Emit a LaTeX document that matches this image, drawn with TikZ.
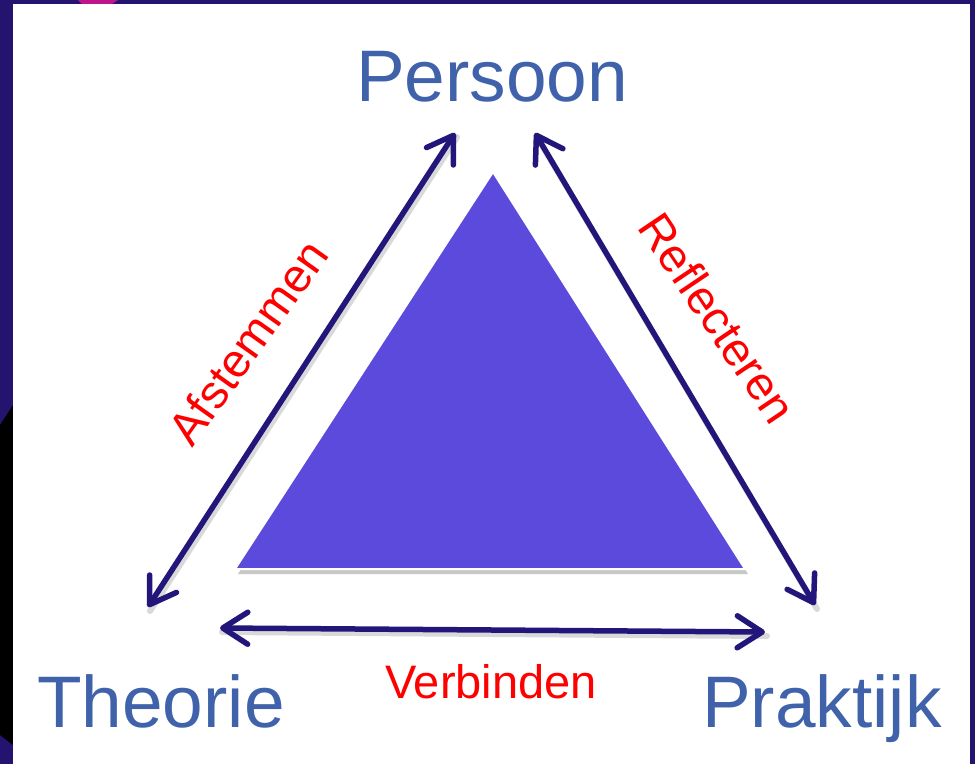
\documentclass[tikz,border=0pt]{standalone}
\usepackage{fontspec}
\setmainfont{Liberation Sans}
\usetikzlibrary{arrows.meta}
\definecolor{framepurple}{RGB}{36,20,112}
\definecolor{magentaspot}{RGB}{190,20,140}
\definecolor{trifill}{RGB}{91,74,220}
\definecolor{arrowcol}{RGB}{35,22,122}
\definecolor{labelblue}{RGB}{63,98,170}
\definecolor{labelred}{RGB}{255,0,0}
\tikzset{
  corner/.style={text=labelblue, font=\fontsize{73}{80}\selectfont, inner sep=0pt},
  verb/.style={text=labelred, font=\fontsize{47}{50}\selectfont, inner sep=0pt},
  link/.style={draw=arrowcol, line width=5.5pt, line cap=round,
    {Straight Barb[length=25pt, width=32pt, line cap=round, round]}-{Straight Barb[length=25pt, width=32pt, line cap=round, round]}},
  linkshadow/.style={draw=black!15, line width=6pt, line cap=round},
}
\begin{document}
\begin{tikzpicture}[x=1pt, y=-1pt]
\useasboundingbox (0,0) rectangle (975,764);
% frame background
\fill[framepurple] (0,0) rectangle (975,764);
\fill[black] (0,425) -- (13,405) -- (13,745) -- (0,735) -- cycle;
\fill[magentaspot] (78,0) -- (118,0) -- (112,4) -- (82,4) -- cycle;
\fill[white] (13,4) rectangle (970,764);
% triangle
\fill[black!22] (495,176) -- (748,574) -- (238,574) -- cycle;
\filldraw[fill=trifill, draw=white, line width=2pt] (493,172) -- (745,569) -- (235,569) -- cycle;
% labels
\node[corner, anchor=base] (persoon) at (492,101) {Persoon};
\node[corner, anchor=base west] (theorie) at (37,727) {Theorie};
\node[corner, anchor=base west] (praktijk) at (702,727) {Praktijk};
% arrow end points
\coordinate (tl) at (455,133);
\coordinate (bl) at (148,607);
\coordinate (tr) at (535,133);
\coordinate (br) at (815,605);
\coordinate (lb) at (220,628);
\coordinate (rb) at (765,632);
% shadows
\draw[linkshadow] ([shift={(2,4)}]tl) -- ([shift={(2,4)}]bl);
\draw[linkshadow] ([shift={(2,4)}]tr) -- ([shift={(2,4)}]br);
\draw[linkshadow] ([shift={(2,4)}]lb) -- ([shift={(2,4)}]rb);
% arrows
\draw[link] (tl) -- (bl);
\draw[link] (tr) -- (br);
\draw[link] (lb) -- (rb);
% arrow labels
\node[verb, anchor=base] (verbinden) at (491,698) {Verbinden};
\node[verb, rotate=54.6] (afstemmen) at (248,342) {Afstemmen};
\node[verb, rotate=-56] (reflecteren) at (718,318) {Reflecteren};
\end{tikzpicture}
\end{document}
